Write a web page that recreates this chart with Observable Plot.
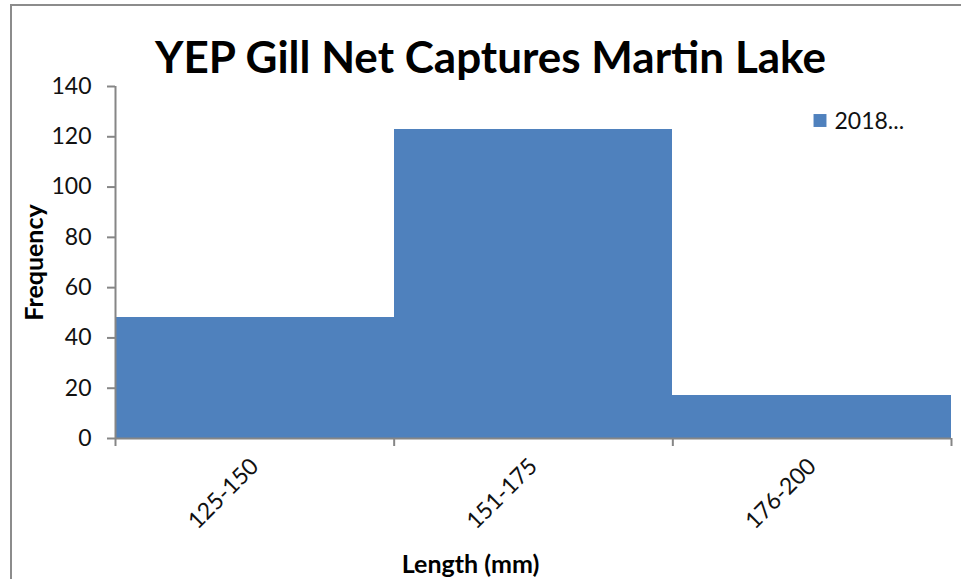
<!DOCTYPE html>
<html>
<head>
<meta charset="utf-8">
<script src="https://cdn.jsdelivr.net/npm/d3@7"></script>
<script src="https://cdn.jsdelivr.net/npm/@observablehq/plot@0.6"></script>
<style>
  html, body { margin: 0; padding: 0; background: #fff; overflow: hidden; }
  #wrap { position: relative; width: 961px; height: 579px; }
  #border { position: absolute; left: 10px; top: 4px; width: 2000px; height: 2000px;
            border-left: 2px solid #8c8c8c; border-top: 2px solid #8c8c8c; box-sizing: border-box; }
  #chart { position: absolute; left: 0; top: 0; }
</style>
</head>
<body>
<div id="wrap"><div id="border"></div><div id="chart"></div></div>
<script>
const categories = ["125-150", "151-175", "176-200"];
const frequencies = [48, 123, 17];
const yTicks = [0, 20, 40, 60, 80, 100, 120, 140];
const seriesName = "2018...";
const titleText = "YEP Gill Net Captures Martin Lake";
const xLabel = "Length (mm)";
const yLabel = "Frequency";

const data = categories.map((c, i) => ({cat: c, i, f: frequencies[i]}));
const edges = d3.range(categories.length + 1);
const centers = categories.map((c, i) => i + 0.5);

const barColor = "#4f81bd";
const axisColor = "#868686";
const textColor = "#111";
const mL = 115, mT = 86, mB = 141, mR = 10;

const chart = Plot.plot({
  width: 961, height: 579,
  marginTop: mT, marginBottom: mB, marginLeft: mL, marginRight: mR,
  x: {type: "linear", domain: [0, categories.length]},
  y: {domain: [0, 140]},
  style: {fontFamily: "Lato, 'Open Sans', sans-serif", background: "transparent", color: textColor},
  marks: [
    Plot.rectY(data, {x1: "i", x2: d => d.i + 1, y: "f", fill: barColor, inset: 0, shapeRendering: "crispEdges"}),
    Plot.ruleY([0], {stroke: axisColor, strokeWidth: 2}),
    Plot.ruleX([0], {stroke: axisColor, strokeWidth: 2}),
    Plot.axisY({ticks: yTicks, tickSize: 8, tickFormat: () => "", stroke: axisColor, strokeWidth: 2, label: null}),
    Plot.axisY({ticks: yTicks, tickSize: 0, tickPadding: 24, fontSize: 23, fill: textColor, label: null}),
    Plot.axisX({ticks: edges, tickSize: 8, tickFormat: () => "", stroke: axisColor, strokeWidth: 2, label: null}),
    Plot.axisX({ticks: centers, tickSize: 0, tickPadding: 24, tickRotate: -45, fontSize: 23, fill: textColor,
                tickFormat: v => categories[Math.floor(v)], label: null}),
    Plot.text([titleText], {frameAnchor: "top-left", dx: 490 - mL, dy: 58 - mT, fontSize: 44, fontWeight: "bold",
                textAnchor: "middle", lineAnchor: "middle", fill: "#000"}),
    Plot.text([yLabel], {frameAnchor: "left", dx: 34 - mL, rotate: -90, fontSize: 25, fontWeight: "bold",
                textAnchor: "middle", lineAnchor: "middle", fill: "#000"}),
    Plot.text([xLabel], {frameAnchor: "bottom-left", dx: 470 - mL, dy: 564 - (579 - mB), fontSize: 25, fontWeight: "bold",
                textAnchor: "middle", lineAnchor: "middle", fill: "#000"}),
    Plot.dot([seriesName], {frameAnchor: "top-left", dx: 819.5 - mL, dy: 120 - mT, symbol: "square", r: 7.3,
                fill: barColor, stroke: "none"}),
    Plot.text([seriesName], {frameAnchor: "top-left", dx: 834 - mL, dy: 121 - mT, fontSize: 23,
                textAnchor: "start", lineAnchor: "middle", fill: textColor})
  ]
});
document.getElementById("chart").appendChild(chart);
</script>
</body>
</html>
